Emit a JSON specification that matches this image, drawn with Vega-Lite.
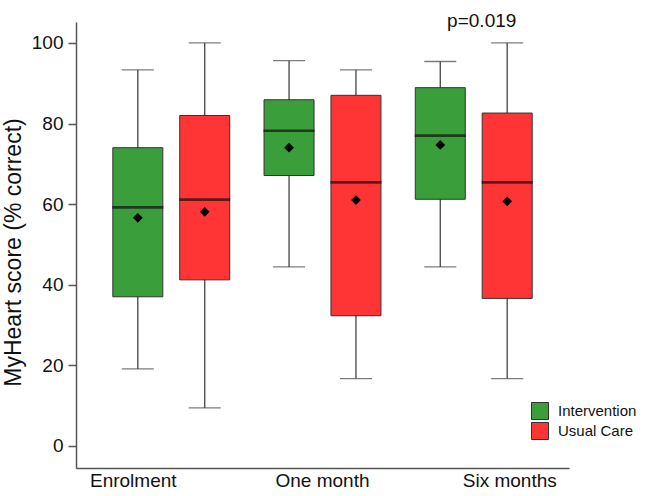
{
  "$schema": "https://vega.github.io/schema/vega-lite/v6.json",
  "width": 493,
  "height": 446,
  "autosize": "none",
  "padding": {"left": 76, "top": 22, "right": 81, "bottom": 28},
  "background": "white",
  "config": {"font": "Liberation Sans", "view": {"stroke": null}},
  "data": {
    "values": [
      {"time": "Enrolment", "group": "Intervention", "lower": 19.1, "q1": 37.0, "median": 59.2, "q3": 74.0, "upper": 93.3, "mean": 56.6},
      {"time": "Enrolment", "group": "Usual Care", "lower": 9.4, "q1": 41.2, "median": 61.1, "q3": 82.0, "upper": 100, "mean": 58.1},
      {"time": "One month", "group": "Intervention", "lower": 44.4, "q1": 67.1, "median": 78.2, "q3": 85.9, "upper": 95.6, "mean": 74.0},
      {"time": "One month", "group": "Usual Care", "lower": 16.7, "q1": 32.3, "median": 65.4, "q3": 87.0, "upper": 93.3, "mean": 61.0},
      {"time": "Six months", "group": "Intervention", "lower": 44.4, "q1": 61.2, "median": 77.0, "q3": 88.9, "upper": 95.4, "mean": 74.7},
      {"time": "Six months", "group": "Usual Care", "lower": 16.7, "q1": 36.6, "median": 65.4, "q3": 82.6, "upper": 100, "mean": 60.7}
    ]
  },
  "encoding": {
    "x": {
      "field": "time",
      "type": "nominal",
      "sort": ["Enrolment", "One month", "Six months"],
      "scale": {"paddingInner": 0, "paddingOuter": 0.13},
      "axis": {
        "title": null,
        "labelAngle": 0,
        "labelFontSize": 19,
        "labelColor": "#111",
        "labelPadding": 3,
        "ticks": false,
        "domainColor": "#555",
        "domainWidth": 1.5,
        "labelOffset": {
          "condition": [
            {"test": "datum.value === 'Enrolment'", "value": -38},
            {"test": "datum.value === 'Six months'", "value": 36}
          ],
          "value": 0
        }
      }
    }
  },
  "layer": [
    {
      "mark": {"type": "rule", "color": "#444", "strokeWidth": 1.3},
      "encoding": {
        "xOffset": {"field": "group", "type": "nominal", "sort": ["Intervention", "Usual Care"], "scale": {"paddingInner": 0, "paddingOuter": 0.13}},
        "y": {
          "field": "lower",
          "type": "quantitative",
          "scale": {"domain": [-5.5, 105.2], "nice": false, "zero": false},
          "axis": {
            "title": "MyHeart score (% correct)",
            "titleFontSize": 23,
            "titleFontWeight": "normal",
            "titleColor": "#111",
            "titlePadding": 6,
            "titleY": 230,
            "values": [0, 20, 40, 60, 80, 100],
            "grid": false,
            "labelFontSize": 19,
            "labelColor": "#111",
            "labelPadding": 5,
            "tickSize": 8,
            "tickColor": "#555",
            "tickWidth": 1.5,
            "domainColor": "#555",
            "domainWidth": 1.5
          }
        },
        "y2": {"field": "upper"}
      }
    },
    {
      "mark": {"type": "tick", "color": "#444", "thickness": 1.3, "size": 32},
      "encoding": {
        "xOffset": {"field": "group", "type": "nominal", "sort": ["Intervention", "Usual Care"]},
        "y": {"field": "lower", "type": "quantitative"}
      }
    },
    {
      "mark": {"type": "tick", "color": "#444", "thickness": 1.3, "size": 32},
      "encoding": {
        "xOffset": {"field": "group", "type": "nominal", "sort": ["Intervention", "Usual Care"]},
        "y": {"field": "upper", "type": "quantitative"}
      }
    },
    {
      "mark": {"type": "bar", "width": 50, "stroke": "#333", "strokeWidth": 1},
      "encoding": {
        "xOffset": {"field": "group", "type": "nominal", "sort": ["Intervention", "Usual Care"]},
        "y": {"field": "q1", "type": "quantitative"},
        "y2": {"field": "q3"},
        "color": {
          "field": "group",
          "type": "nominal",
          "scale": {"domain": ["Intervention", "Usual Care"], "range": ["#3a9e3a", "#ff3535"]},
          "legend": {
            "title": null,
            "orient": "none",
            "legendX": 455,
            "legendY": 380,
            "padding": 0,
            "symbolType": "square",
            "symbolSize": 289,
            "symbolStrokeColor": "#333",
            "symbolStrokeWidth": 1,
            "labelFontSize": 15,
            "labelColor": "#111",
            "labelOffset": 9,
            "rowPadding": -3
          }
        }
      }
    },
    {
      "mark": {"type": "tick", "color": "#111", "thickness": 2.6, "size": 51},
      "encoding": {
        "xOffset": {"field": "group", "type": "nominal", "sort": ["Intervention", "Usual Care"]},
        "y": {"field": "median", "type": "quantitative"}
      }
    },
    {
      "mark": {"type": "point", "shape": "diamond", "filled": true, "color": "#000", "size": 95, "opacity": 1},
      "encoding": {
        "xOffset": {"field": "group", "type": "nominal", "sort": ["Intervention", "Usual Care"]},
        "y": {"field": "mean", "type": "quantitative"}
      }
    },
    {
      "data": {"values": [{"time": "Six months", "pos": 104, "label": "p=0.019"}]},
      "mark": {"type": "text", "fontSize": 19, "color": "#111", "baseline": "alphabetic", "align": "center", "dx": 8},
      "encoding": {
        "y": {"field": "pos", "type": "quantitative"},
        "text": {"field": "label"}
      }
    }
  ]
}
